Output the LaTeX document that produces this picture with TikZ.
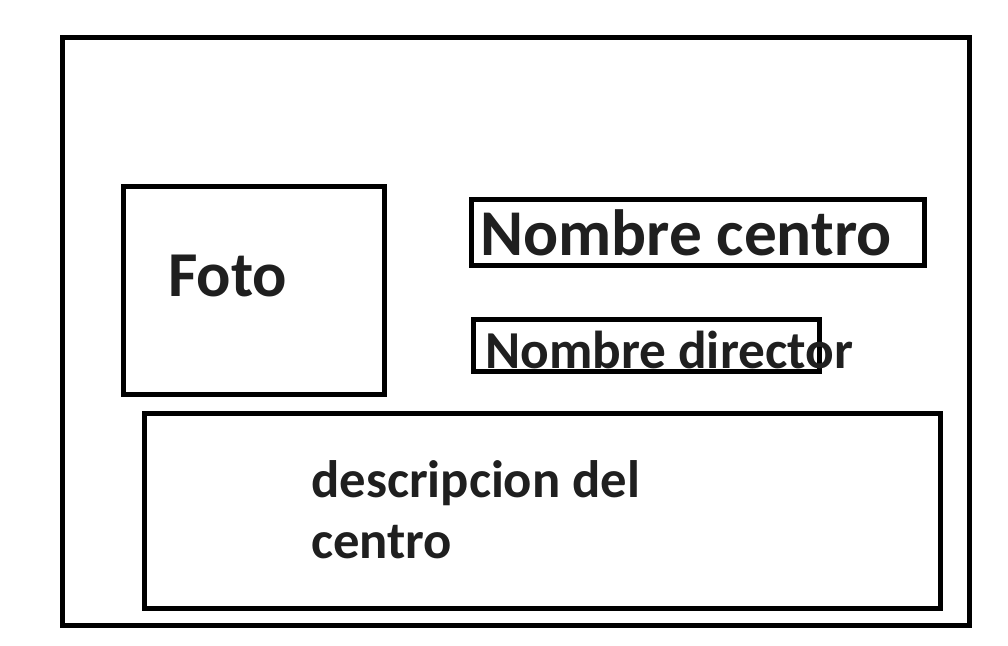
\documentclass[tikz,border=0pt]{standalone}
\usepackage{fontspec}
\setmainfont{Carlito}
\usetikzlibrary{positioning}
\definecolor{wfink}{RGB}{31,31,31}

\begin{document}
\begin{tikzpicture}[x=0.75pt, y=-0.75pt]
  \tikzset{
    wfbox/.style={draw=black, line width=3.75pt},
    wftext/.style={font=\bfseries, text=wfink, anchor=base west, inner sep=0pt}
  }
  \useasboundingbox (0,0) rectangle (1008,646);
  % --- marco ---
  \draw[wfbox] (62.5,37.5) rectangle (969.5,625);
  % --- foto ---
  \draw[wfbox] (123.5,186.5) rectangle (384,394);
  \node[wftext, font=\fontsize{48}{52}\selectfont\bfseries] (foto) at (168,296) {Foto};
  % --- cabecera ---
  \draw[wfbox] (471.5,199) rectangle (924,265);
  \node[wftext, font=\fontsize{49}{53}\selectfont\bfseries] (centro) at (480,255) {Nombre centro};
  \draw[wfbox] (473,319) rectangle (819,371.5);
  \node[wftext, font=\fontsize{40}{44}\selectfont\bfseries] (director) at (485,368) {Nombre director};
  % --- descripcion ---
  \draw[wfbox] (144,413) rectangle (940,608);
  \node[wftext, font=\fontsize{39.5}{44}\selectfont\bfseries] (desc1) at (311,497) {descripcion del};
  \node[wftext, font=\fontsize{39.5}{44}\selectfont\bfseries] (desc2) at (311,558) {centro};
\end{tikzpicture}
\end{document}
